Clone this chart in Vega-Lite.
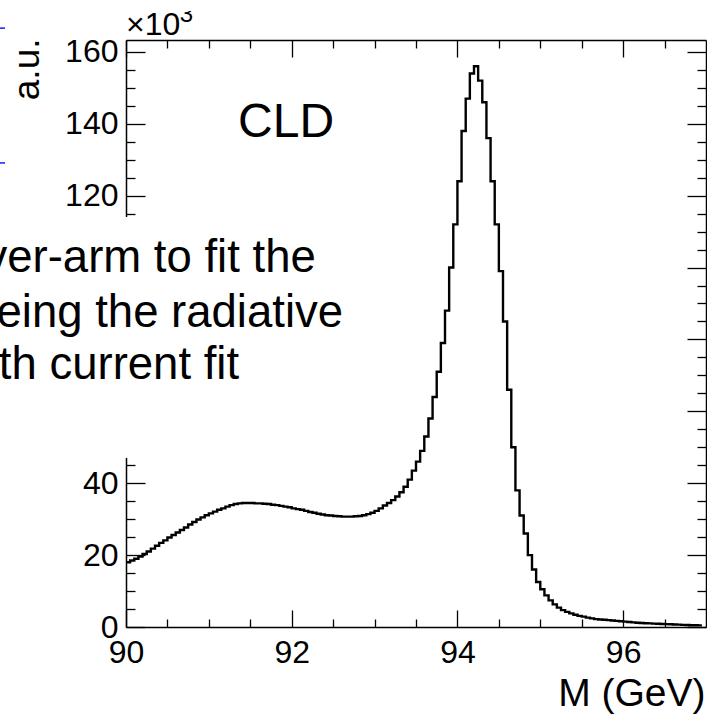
{
  "$schema": "https://vega.github.io/schema/vega-lite/v6.json",
  "width": 580,
  "height": 587,
  "autosize": {"type": "none"},
  "padding": {"left": 126, "top": 40, "right": 1, "bottom": 90},
  "background": "white",
  "view": {"stroke": null},
  "config": {
    "axis": {
      "grid": false,
      "labelFont": "Liberation Sans",
      "titleFont": "Liberation Sans",
      "labelColor": "black",
      "titleColor": "black",
      "tickColor": "black",
      "domainColor": "black",
      "labelFontSize": 32,
      "labelFontWeight": "normal",
      "titleFontWeight": "normal",
      "tickWidth": 1.3,
      "domainWidth": 1.5,
      "labelFlush": false,
      "labelOverlap": false,
      "labelBound": false
    },
    "text": {"font": "Liberation Sans", "color": "black"}
  },
  "data": {
    "values": [
      {"M": 90.00, "N": 18.0}, {"M": 90.05, "N": 18.5}, {"M": 90.10, "N": 19.0}, {"M": 90.15, "N": 19.6},
      {"M": 90.20, "N": 20.3}, {"M": 90.25, "N": 21.0}, {"M": 90.30, "N": 21.8}, {"M": 90.35, "N": 22.6},
      {"M": 90.40, "N": 23.4}, {"M": 90.45, "N": 24.1}, {"M": 90.50, "N": 24.9}, {"M": 90.55, "N": 25.6},
      {"M": 90.60, "N": 26.3}, {"M": 90.65, "N": 27.0}, {"M": 90.70, "N": 27.7}, {"M": 90.75, "N": 28.5},
      {"M": 90.80, "N": 29.2}, {"M": 90.85, "N": 29.9}, {"M": 90.90, "N": 30.5}, {"M": 90.95, "N": 31.1},
      {"M": 91.00, "N": 31.6}, {"M": 91.05, "N": 32.1}, {"M": 91.10, "N": 32.6}, {"M": 91.15, "N": 33.0},
      {"M": 91.20, "N": 33.5}, {"M": 91.25, "N": 33.9}, {"M": 91.30, "N": 34.2}, {"M": 91.35, "N": 34.4},
      {"M": 91.40, "N": 34.5}, {"M": 91.45, "N": 34.5}, {"M": 91.50, "N": 34.5}, {"M": 91.55, "N": 34.4},
      {"M": 91.60, "N": 34.4}, {"M": 91.65, "N": 34.3}, {"M": 91.70, "N": 34.2}, {"M": 91.75, "N": 34.0},
      {"M": 91.80, "N": 33.9}, {"M": 91.85, "N": 33.7}, {"M": 91.90, "N": 33.5}, {"M": 91.95, "N": 33.3},
      {"M": 92.00, "N": 33.0}, {"M": 92.05, "N": 32.8}, {"M": 92.10, "N": 32.6}, {"M": 92.15, "N": 32.3},
      {"M": 92.20, "N": 32.0}, {"M": 92.25, "N": 31.8}, {"M": 92.30, "N": 31.5}, {"M": 92.35, "N": 31.3},
      {"M": 92.40, "N": 31.1}, {"M": 92.45, "N": 31.0}, {"M": 92.50, "N": 30.9}, {"M": 92.55, "N": 30.8},
      {"M": 92.60, "N": 30.7}, {"M": 92.65, "N": 30.7}, {"M": 92.70, "N": 30.7}, {"M": 92.75, "N": 30.8},
      {"M": 92.80, "N": 30.9}, {"M": 92.85, "N": 31.1}, {"M": 92.90, "N": 31.4}, {"M": 92.95, "N": 31.8},
      {"M": 93.00, "N": 32.3}, {"M": 93.05, "N": 33.0}, {"M": 93.10, "N": 33.8}, {"M": 93.15, "N": 34.5},
      {"M": 93.20, "N": 35.3}, {"M": 93.25, "N": 36.3}, {"M": 93.30, "N": 37.5}, {"M": 93.35, "N": 39.0},
      {"M": 93.40, "N": 41.0}, {"M": 93.45, "N": 43.5}, {"M": 93.50, "N": 46.0}, {"M": 93.55, "N": 49.0},
      {"M": 93.60, "N": 53.0}, {"M": 93.65, "N": 58.0}, {"M": 93.70, "N": 64.0}, {"M": 93.75, "N": 71.0},
      {"M": 93.80, "N": 79.0}, {"M": 93.85, "N": 88.0}, {"M": 93.90, "N": 100.0}, {"M": 93.95, "N": 112.0},
      {"M": 94.00, "N": 124.0}, {"M": 94.05, "N": 138.0}, {"M": 94.10, "N": 147.0}, {"M": 94.15, "N": 154.0},
      {"M": 94.20, "N": 156.0}, {"M": 94.25, "N": 152.0}, {"M": 94.30, "N": 146.0}, {"M": 94.35, "N": 136.0},
      {"M": 94.40, "N": 124.0}, {"M": 94.45, "N": 112.0}, {"M": 94.50, "N": 99.0}, {"M": 94.55, "N": 85.0},
      {"M": 94.60, "N": 66.0}, {"M": 94.65, "N": 50.0}, {"M": 94.70, "N": 38.0}, {"M": 94.75, "N": 31.0},
      {"M": 94.80, "N": 26.0}, {"M": 94.85, "N": 20.0}, {"M": 94.90, "N": 16.0}, {"M": 94.95, "N": 12.5},
      {"M": 95.00, "N": 10.5}, {"M": 95.05, "N": 8.8}, {"M": 95.10, "N": 7.4}, {"M": 95.15, "N": 6.3},
      {"M": 95.20, "N": 5.4}, {"M": 95.25, "N": 4.7}, {"M": 95.30, "N": 4.2}, {"M": 95.35, "N": 3.8},
      {"M": 95.40, "N": 3.4}, {"M": 95.45, "N": 3.1}, {"M": 95.50, "N": 2.9}, {"M": 95.55, "N": 2.6},
      {"M": 95.60, "N": 2.4}, {"M": 95.65, "N": 2.2}, {"M": 95.70, "N": 2.1}, {"M": 95.75, "N": 2.0},
      {"M": 95.80, "N": 1.9}, {"M": 95.85, "N": 1.8}, {"M": 95.90, "N": 1.7}, {"M": 95.95, "N": 1.6},
      {"M": 96.00, "N": 1.5}, {"M": 96.05, "N": 1.4}, {"M": 96.10, "N": 1.3}, {"M": 96.15, "N": 1.2},
      {"M": 96.20, "N": 1.1}, {"M": 96.25, "N": 1.05}, {"M": 96.30, "N": 1.0}, {"M": 96.35, "N": 0.95},
      {"M": 96.40, "N": 0.9}, {"M": 96.45, "N": 0.85}, {"M": 96.50, "N": 0.8}, {"M": 96.55, "N": 0.75},
      {"M": 96.60, "N": 0.7}, {"M": 96.65, "N": 0.65}, {"M": 96.70, "N": 0.6}, {"M": 96.75, "N": 0.55},
      {"M": 96.80, "N": 0.5}, {"M": 96.85, "N": 0.5}, {"M": 96.90, "N": 0.45}, {"M": 96.95, "N": 0.45}
    ]
  },
  "resolve": {"axis": {"x": "independent", "y": "independent"}},
  "layer": [
    {
      "mark": {"type": "line", "interpolate": "step-after", "color": "black", "strokeWidth": 2.4},
      "encoding": {
        "x": {
          "field": "M", "type": "quantitative",
          "scale": {"domain": [90, 97], "nice": false, "zero": false},
          "axis": {
            "orient": "bottom", "values": [90, 92, 94, 96], "tickSize": -17, "labelPadding": 27,
            "domain": true, "format": "d",
            "title": "M (GeV)", "titleFontSize": 39, "titleAnchor": "end", "titleAlign": "right",
            "titleBaseline": "alphabetic", "titleX": 579, "titleY": 78
          }
        },
        "y": {
          "field": "N", "type": "quantitative",
          "scale": {"domain": [0, 163.3], "nice": false, "zero": true},
          "axis": {
            "orient": "left", "values": [0, 20, 40, 60, 80, 100, 120, 140, 160], "tickSize": -19,
            "labelPadding": 27, "domain": true, "format": "d",
            "title": "a.u.", "titleFontSize": 37, "titleAngle": -90, "titleAlign": "right",
            "titleBaseline": "alphabetic", "titleX": -88, "titleY": -2
          }
        }
      }
    },
    {
      "mark": {"type": "line", "strokeOpacity": 0},
      "encoding": {
        "x": {
          "field": "M", "type": "quantitative",
          "axis": {
            "orient": "bottom", "values": [90.5, 91, 91.5, 92.5, 93, 93.5, 94.5, 95, 95.5, 96.5],
            "tickSize": -8, "labels": false, "domain": false, "title": null
          }
        },
        "y": {
          "field": "N", "type": "quantitative",
          "axis": {
            "orient": "left",
            "values": [5, 10, 15, 25, 30, 35, 45, 50, 55, 65, 70, 75, 85, 90, 95, 105, 110, 115, 125, 130, 135, 145, 150, 155],
            "tickSize": -9, "labels": false, "domain": false, "title": null
          }
        }
      }
    },
    {
      "mark": {"type": "line", "strokeOpacity": 0},
      "encoding": {
        "x": {
          "field": "M", "type": "quantitative",
          "axis": {
            "orient": "top", "values": [90, 92, 94, 96], "tickSize": -17, "labels": false,
            "domain": true, "title": null
          }
        },
        "y": {
          "field": "N", "type": "quantitative",
          "axis": {
            "orient": "right", "values": [0, 20, 40, 60, 80, 100, 120, 140, 160], "tickSize": -19,
            "labels": false, "domain": true, "title": null
          }
        }
      }
    },
    {
      "mark": {"type": "line", "strokeOpacity": 0},
      "encoding": {
        "x": {
          "field": "M", "type": "quantitative",
          "axis": {
            "orient": "top", "values": [90.5, 91, 91.5, 92.5, 93, 93.5, 94.5, 95, 95.5, 96.5],
            "tickSize": -8, "labels": false, "domain": false, "title": null
          }
        },
        "y": {
          "field": "N", "type": "quantitative",
          "axis": {
            "orient": "right",
            "values": [5, 10, 15, 25, 30, 35, 45, 50, 55, 65, 70, 75, 85, 90, 95, 105, 110, 115, 125, 130, 135, 145, 150, 155],
            "tickSize": -9, "labels": false, "domain": false, "title": null
          }
        }
      }
    },
    {
      "data": {"values": [{"box": "slide text background"}]},
      "mark": {"type": "rect", "color": "white", "clip": false},
      "encoding": {
        "x": {"datum": 88.3, "type": "quantitative", "axis": null},
        "x2": {"datum": 93.2},
        "y": {"datum": 114.06, "type": "quantitative", "axis": null},
        "y2": {"datum": 47.0}
      }
    },
    {
      "data": {"values": [{"from": 166.6}, {"from": 129.1}]},
      "mark": {"type": "rule", "color": "#1a1aff", "strokeWidth": 1.5, "clip": false},
      "encoding": {
        "x": {"datum": 88.45, "type": "quantitative", "axis": null},
        "x2": {"datum": 88.54},
        "y": {"field": "from", "type": "quantitative", "axis": null}
      }
    },
    {
      "data": {"values": [{"t": "CLD"}]},
      "mark": {"type": "text", "fontSize": 48, "align": "left", "baseline": "alphabetic"},
      "encoding": {
        "x": {"datum": 91.352, "type": "quantitative", "axis": null},
        "y": {"datum": 136.3, "type": "quantitative", "axis": null},
        "text": {"field": "t"}
      }
    },
    {
      "data": {"values": [{"t": "×10"}]},
      "mark": {"type": "text", "fontSize": 32, "align": "left", "baseline": "alphabetic"},
      "encoding": {
        "x": {"datum": 90.0, "type": "quantitative", "axis": null},
        "y": {"datum": 164.7, "type": "quantitative", "axis": null},
        "text": {"field": "t"}
      }
    },
    {
      "data": {"values": [{"t": "3"}]},
      "mark": {"type": "text", "fontSize": 24, "align": "left", "baseline": "alphabetic"},
      "encoding": {
        "x": {"datum": 90.65, "type": "quantitative", "axis": null},
        "y": {"datum": 168.3, "type": "quantitative", "axis": null},
        "text": {"field": "t"}
      }
    },
    {
      "data": {"values": [{"box": "top cover"}]},
      "mark": {"type": "rect", "color": "white", "clip": false},
      "encoding": {
        "x": {"datum": 90.55, "type": "quantitative", "axis": null},
        "x2": {"datum": 91.0},
        "y": {"datum": 171.4, "type": "quantitative", "axis": null},
        "y2": {"datum": 180.0}
      }
    },
    {
      "data": {"values": [{"t": "ver-arm to fit the"}]},
      "mark": {"type": "text", "fontSize": 45.5, "align": "right", "baseline": "alphabetic"},
      "encoding": {
        "x": {"datum": 92.29, "type": "quantitative", "axis": null},
        "y": {"datum": 98.76, "type": "quantitative", "axis": null},
        "text": {"field": "t"}
      }
    },
    {
      "data": {"values": [{"t": "eing the radiative"}]},
      "mark": {"type": "text", "fontSize": 45.5, "align": "right", "baseline": "alphabetic"},
      "encoding": {
        "x": {"datum": 92.62, "type": "quantitative", "axis": null},
        "y": {"datum": 83.46, "type": "quantitative", "axis": null},
        "text": {"field": "t"}
      }
    },
    {
      "data": {"values": [{"t": "th current fit"}]},
      "mark": {"type": "text", "fontSize": 45.5, "align": "right", "baseline": "alphabetic"},
      "encoding": {
        "x": {"datum": 91.365, "type": "quantitative", "axis": null},
        "y": {"datum": 68.99, "type": "quantitative", "axis": null},
        "text": {"field": "t"}
      }
    }
  ]
}
